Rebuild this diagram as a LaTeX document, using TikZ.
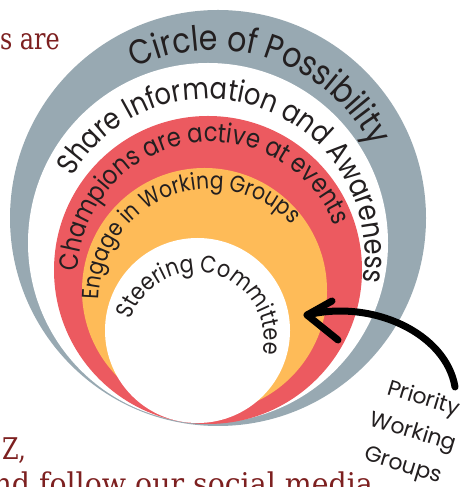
\documentclass[tikz,border=0pt]{standalone}
\usepackage{fontspec}
\usetikzlibrary{decorations.text}
\newfontfamily\arcfont{Poppins}[FakeStretch=0.86]
\newfontfamily\labelfont{Poppins}
\newfontfamily\bgfont{DejaVu Serif}[FakeStretch=0.8]
\newfontfamily\bgfontwide{DejaVu Serif}[FakeStretch=0.95]
\definecolor{ringgray}{RGB}{152,169,178}
\definecolor{ringred}{RGB}{236,90,96}
\definecolor{ringorange}{RGB}{254,187,88}
\definecolor{inktext}{RGB}{35,31,32}
\definecolor{bgred}{RGB}{125,32,32}
\newcommand\fontA{\arcfont\fontsize{35}{35}\selectfont\color{inktext}}
\newcommand\fontB{\arcfont\fontsize{30}{30}\selectfont\color{inktext}}
\newcommand\fontC{\arcfont\fontsize{26.5}{26.5}\selectfont\color{inktext}}
\newcommand\fontD{\arcfont\fontsize{23.5}{23.5}\selectfont\color{inktext}}
\newcommand\fontE{\arcfont\fontsize{24}{24}\selectfont\color{inktext}}
\tikzset{
  ringtext/.style={decorate, decoration={text along path, text={#1}, text align=center}},
  arrowline/.style={line width=7bp, line cap=round, line join=round, draw=black},
  bgtext/.style={font=\bgfont\fontsize{30}{30}\selectfont, text=bgred, inner sep=0pt},
  prio/.style={font=\labelfont\fontsize{22}{35}\selectfont, text=inktext, align=center, inner sep=0pt}
}
\begin{document}
\begin{tikzpicture}[x=1bp,y=1bp]
\useasboundingbox (0,0) rectangle (461,487);
\clip (0,0) rectangle (461,487);
\fill[white] (0,0) rectangle (461,487);
% background text fragments
\node[bgtext, anchor=base east] (sare) at (60,437) {s are};
\node[bgtext, anchor=base west] (zed) at (2,27) {Z,};
\node[bgtext, font=\bgfontwide\fontsize{30}{30}\selectfont, anchor=base east] (follow) at (373,-7) {nd follow our social media};
% rings
\fill[ringgray] (218,269) circle[radius=208];
\fill[white] (208,244) circle[radius=180];
\fill[ringred] (208,217) circle[radius=154];
\fill[ringorange] (204.5,196.5) circle[radius=122.5];
\fill[white] (197.5,156.5) circle[radius=92.5];
% curved texts (centred on the middle angle of each reference span)
\path[ringtext={|\fontA|Circle of Possibility}, shift={(213,259)}] (151.5:178) arc[start angle=151.5, end angle=-8.5, radius=178];
\path[ringtext={|\fontB|Share Information and Awareness}, shift={(208,231)}] (170:157) arc[start angle=170, end angle=-30, radius=157];
\path[ringtext={|\fontC|Champions are active at events}, shift={(211,212)}] (210:133) arc[start angle=210, end angle=-10, radius=133];
\path[ringtext={|\fontD|Engage in Working Groups}, shift={(210,187)}] (206.25:111) arc[start angle=206.25, end angle=16.25, radius=111];
\path[ringtext={|\fontE|Steering Committee}, shift={(196,147)}] (185.5:68) arc[start angle=185.5, end angle=-34.5, radius=68];
% arrow
\coordinate (tail) at (455,100);
\coordinate (tip) at (307,172);
\coordinate (barbup) at (332,186);
\coordinate (barbdown) at (338,147);
\draw[arrowline] (tail) .. controls (446,154) and (372,188) .. (tip);
\draw[arrowline] (barbup) -- (tip) -- (barbdown);
% label
\node[prio, rotate=-17] (prio) at (413,54) {Priority\\Working\\Groups};
\end{tikzpicture}
\end{document}
